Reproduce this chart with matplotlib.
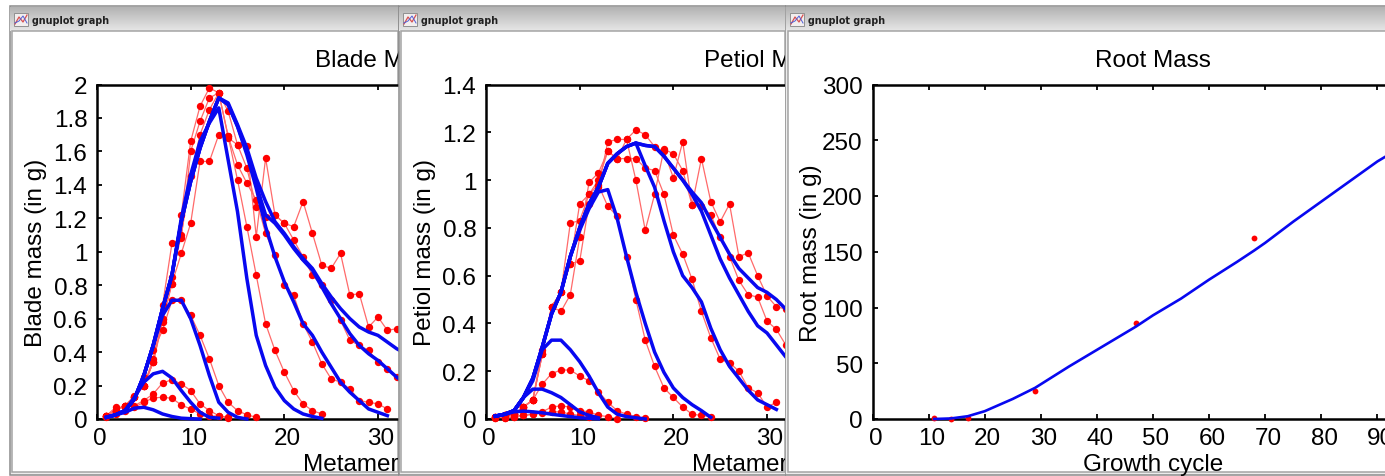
import numpy as np
import matplotlib
matplotlib.use("Agg")
import matplotlib.pyplot as plt
from matplotlib.patches import Rectangle
from matplotlib.transforms import ScaledTranslation

FIG_W, FIG_H = 1385, 477
FONT_SIZE = 17.5

# Blade mass, observed
blade_obs_x = [
    list(range(1, 15)),
    list(range(1, 15)),
    list(range(1, 18)),
    list(range(1, 25)),
    list(range(1, 32)),
    list(range(1, 34)),
    list(range(1, 34)),
]
blade_obs_y = [
    [0.01, 0.03, 0.05, 0.07, 0.10, 0.126, 0.13, 0.124, 0.084, 0.06, 0.03, 0.015, 0.02, 0.005],
    [0.02, 0.07, 0.07, 0.08, 0.11, 0.15, 0.215, 0.235, 0.21, 0.17, 0.09, 0.05, 0.02, 0.01],
    [0.02, 0.05, 0.08, 0.14, 0.25, 0.41, 0.53, 0.71, 0.71, 0.62, 0.50, 0.36, 0.20, 0.10, 0.05, 0.025, 0.01],
    [0.02, 0.05, 0.08, 0.13, 0.20, 0.34, 0.60, 0.81, 1.22, 1.66, 1.87, 1.98, 1.95, 1.69, 1.43, 1.15, 0.86, 0.57, 0.41, 0.28, 0.17, 0.09, 0.05, 0.03],
    [0.02, 0.05, 0.08, 0.13, 0.20, 0.36, 0.68, 1.05, 1.08, 1.60, 1.78, 1.92, 1.95, 1.69, 1.52, 1.41, 1.31, 1.11, 0.98, 0.80, 0.74, 0.57, 0.46, 0.33, 0.24, 0.22, 0.18, 0.11, 0.10, 0.09, 0.06],
    [0.02, 0.05, 0.08, 0.13, 0.20, 0.34, 0.58, 0.81, 0.99, 1.17, 1.54, 1.54, 1.70, 1.68, 1.64, 1.50, 1.27, 1.21, 1.22, 1.17, 1.07, 0.97, 0.86, 0.80, 0.71, 0.59, 0.47, 0.44, 0.41, 0.34, 0.30, 0.25, 0.22],
    [0.02, 0.05, 0.08, 0.13, 0.20, 0.34, 0.60, 0.85, 1.10, 1.45, 1.70, 1.85, 1.95, 1.84, 1.64, 1.63, 1.09, 1.56, 1.22, 1.17, 1.15, 1.30, 1.11, 0.92, 0.90, 0.99, 0.74, 0.75, 0.55, 0.61, 0.53, 0.54, 0.52],
]
blade_sim_x = [
    list(range(1, 12)),
    list(range(1, 14)),
    list(range(1, 17)),
    list(range(1, 25)),
    list(range(1, 32)),
    list(range(1, 34)),
    list(range(1, 34)),
]
blade_sim_y = [
    [0.01, 0.025, 0.04, 0.065, 0.07, 0.055, 0.03, 0.015, 0.005, 0.002, 0.0],
    [0.01, 0.025, 0.05, 0.13, 0.22, 0.27, 0.285, 0.245, 0.17, 0.10, 0.04, 0.01, 0.005],
    [0.01, 0.025, 0.05, 0.12, 0.26, 0.44, 0.62, 0.71, 0.71, 0.60, 0.44, 0.26, 0.10, 0.04, 0.01, 0.0],
    [0.01, 0.025, 0.05, 0.12, 0.26, 0.44, 0.66, 0.86, 1.20, 1.46, 1.66, 1.77, 1.86, 1.55, 1.24, 0.84, 0.50, 0.32, 0.19, 0.11, 0.06, 0.03, 0.015, 0.004],
    [0.01, 0.025, 0.05, 0.12, 0.26, 0.44, 0.66, 0.86, 1.18, 1.42, 1.62, 1.78, 1.92, 1.88, 1.75, 1.58, 1.38, 1.15, 0.97, 0.82, 0.70, 0.57, 0.50, 0.40, 0.31, 0.22, 0.16, 0.11, 0.06, 0.04, 0.02],
    [0.01, 0.025, 0.05, 0.12, 0.26, 0.44, 0.66, 0.86, 1.18, 1.42, 1.62, 1.78, 1.92, 1.88, 1.75, 1.60, 1.40, 1.22, 1.17, 1.10, 1.02, 0.95, 0.89, 0.79, 0.69, 0.60, 0.51, 0.44, 0.39, 0.35, 0.30, 0.25, 0.21],
    [0.01, 0.025, 0.05, 0.12, 0.26, 0.44, 0.66, 0.86, 1.18, 1.42, 1.62, 1.78, 1.92, 1.89, 1.76, 1.62, 1.44, 1.30, 1.18, 1.11, 1.03, 0.96, 0.90, 0.81, 0.73, 0.66, 0.60, 0.55, 0.52, 0.50, 0.46, 0.42, 0.39],
]

# Petiol mass
petiol_obs_x = [
    list(range(1, 15)),
    list(range(1, 12)),
    list(range(1, 18)),
    list(range(1, 25)),
    list(range(1, 32)),
    list(range(1, 34)),
    list(range(1, 34)),
]
petiol_obs_y = [
    [0.005, 0.005, 0.01, 0.015, 0.02, 0.03, 0.05, 0.055, 0.05, 0.035, 0.03, 0.015, 0.01, 0.0],
    [0.005, 0.005, 0.01, 0.015, 0.02, 0.025, 0.03, 0.03, 0.02, 0.015, 0.01],
    [0.01, 0.015, 0.02, 0.05, 0.08, 0.145, 0.19, 0.205, 0.205, 0.18, 0.16, 0.115, 0.07, 0.035, 0.02, 0.01, 0.004],
    [0.01, 0.015, 0.02, 0.05, 0.08, 0.29, 0.47, 0.53, 0.82, 0.83, 0.94, 0.98, 0.89, 0.85, 0.68, 0.50, 0.33, 0.22, 0.13, 0.09, 0.05, 0.02, 0.015, 0.01],
    [0.01, 0.015, 0.02, 0.05, 0.08, 0.27, 0.47, 0.45, 0.52, 0.76, 0.99, 1.03, 1.12, 1.09, 1.09, 1.09, 1.05, 1.04, 0.94, 0.77, 0.69, 0.585, 0.45, 0.34, 0.25, 0.235, 0.20, 0.13, 0.11, 0.05, 0.07],
    [0.01, 0.015, 0.02, 0.05, 0.08, 0.27, 0.47, 0.53, 0.65, 0.66, 0.90, 0.97, 1.16, 1.17, 1.17, 1.00, 0.79, 0.94, 1.13, 1.11, 1.04, 0.895, 0.89, 0.855, 0.76, 0.68, 0.58, 0.52, 0.51, 0.41, 0.375, 0.31, 0.28],
    [0.01, 0.015, 0.02, 0.05, 0.08, 0.27, 0.47, 0.53, 0.65, 0.90, 0.94, 1.00, 1.12, 1.09, 1.17, 1.21, 1.19, 1.14, 1.12, 1.01, 1.16, 0.895, 1.09, 0.91, 0.825, 0.90, 0.68, 0.695, 0.60, 0.515, 0.47, 0.46, 0.44],
]
petiol_sim_x = [
    list(range(1, 13)),
    list(range(1, 13)),
    list(range(1, 18)),
    list(range(1, 25)),
    list(range(1, 32)),
    list(range(1, 34)),
    list(range(1, 34)),
]
petiol_sim_y = [
    [0.012, 0.02, 0.03, 0.033, 0.03, 0.026, 0.02, 0.015, 0.01, 0.005, 0.003, 0.001],
    [0.012, 0.02, 0.035, 0.09, 0.125, 0.125, 0.11, 0.09, 0.06, 0.03, 0.015, 0.005],
    [0.012, 0.02, 0.035, 0.09, 0.16, 0.29, 0.33, 0.33, 0.29, 0.24, 0.18, 0.11, 0.05, 0.02, 0.01, 0.005, 0.0],
    [0.012, 0.02, 0.035, 0.09, 0.17, 0.30, 0.44, 0.53, 0.68, 0.79, 0.88, 0.95, 0.96, 0.84, 0.68, 0.53, 0.40, 0.28, 0.195, 0.13, 0.09, 0.06, 0.035, 0.007],
    [0.012, 0.02, 0.035, 0.09, 0.17, 0.30, 0.44, 0.53, 0.68, 0.80, 0.90, 0.97, 1.07, 1.11, 1.14, 1.155, 1.06, 0.97, 0.83, 0.70, 0.60, 0.55, 0.49, 0.38, 0.29, 0.22, 0.17, 0.12, 0.08, 0.06, 0.04],
    [0.012, 0.02, 0.035, 0.09, 0.17, 0.30, 0.44, 0.53, 0.68, 0.80, 0.90, 0.97, 1.07, 1.11, 1.14, 1.155, 1.145, 1.14, 1.10, 1.05, 1.00, 0.94, 0.87, 0.77, 0.67, 0.59, 0.52, 0.45, 0.39, 0.36, 0.31, 0.26, 0.22],
    [0.012, 0.02, 0.035, 0.09, 0.17, 0.30, 0.44, 0.53, 0.68, 0.80, 0.90, 0.97, 1.07, 1.11, 1.14, 1.155, 1.145, 1.14, 1.10, 1.05, 1.00, 0.95, 0.905, 0.83, 0.76, 0.69, 0.63, 0.59, 0.55, 0.53, 0.50, 0.46, 0.42],
]

# Root mass
root_obs_x = [11, 14, 17, 29, 47, 68]
root_obs_y = [1, 0, 1, 25, 86, 162]
root_sim_x = [11, 14, 17, 20, 25, 29, 35, 40, 47, 50, 55, 60, 65, 68, 70, 75, 80, 85, 90, 92]
root_sim_y = [0, 0.5, 2.5, 7, 18, 28, 47, 62, 83, 93, 108, 125, 141, 151, 158, 177, 195, 213, 231, 237]

titles = ["Blade Mass", "Petiol Mass", "Root Mass"]
ylabels = ["Blade mass (in g)", "Petiol mass (in g)", "Root mass (in g)"]
xlabels = ["Metamer rank", "Metamer rank", "Growth cycle"]
metamer_xticks = [0, 10, 20, 30]
root_xticks = [0, 10, 20, 30, 40, 50, 60, 70, 80, 90]
blade_yticks = [0, 0.2, 0.4, 0.6, 0.8, 1, 1.2, 1.4, 1.6, 1.8, 2]
petiol_yticks = [0, 0.2, 0.4, 0.6, 0.8, 1, 1.2, 1.4]
root_yticks = [0, 50, 100, 150, 200, 250, 300]

plt.rcParams["font.family"] = ["Liberation Sans", "DejaVu Sans"]
fig = plt.figure(figsize=(FIG_W / 100, FIG_H / 100), dpi=100)


def px_axes(left, top, right, bottom, zorder):
    return fig.add_axes([left / FIG_W, 1 - bottom / FIG_H, (right - left) / FIG_W, (bottom - top) / FIG_H],
                        zorder=zorder)


def draw_window(left, right, zorder):
    # window chrome, in pixel coords of the picture
    ax = px_axes(left, 6, right, 477, zorder)
    ax.axis("off")
    ax.add_patch(Rectangle((left + 0.5, 6.5), right - left - 1, 469.5, fc="#ececec", ec="#8c8c8c", lw=1.1))
    ax.add_patch(Rectangle((left + 3, 32), right - left - 4, 441, fc="#ffffff", ec="#a4a4a4", lw=1.1, zorder=1.5))
    grad = np.linspace(0.70, 0.90, 24).reshape(-1, 1)
    ax.imshow(grad, cmap="gray", vmin=0, vmax=1, extent=(left + 1, right - 1, 32, 8), aspect="auto", zorder=1)
    ax.set_xlim(left, right)
    ax.set_ylim(477, 6)
    # small gnuplot icon
    ax.add_patch(Rectangle((left + 5, 14), 14, 13, fc="#f2eeee", ec="#909090", lw=0.7, zorder=3))
    ax.plot([left + 6, left + 10, left + 14, left + 18], [25, 18, 23, 16], color="#d85050", lw=0.9, zorder=4)
    ax.plot([left + 6, left + 10, left + 14, left + 18], [24, 22, 17, 24], color="#5060d8", lw=0.7, zorder=4)
    ax.text(left + 23, 21.5, "gnuplot graph", fontsize=6.9, fontweight="bold", family="DejaVu Sans",
            color="#202020", va="center", ha="left", zorder=4)


def draw_panel(left, right, x_max, xticks, ymax, yticks, idx, zorder, obs, sim, lw_sim, ms, obs_line=True):
    ax = px_axes(left, 85.5, right, 420, zorder)
    ax.set_xlim(0, x_max)
    ax.set_ylim(0, ymax)
    for s in ax.spines.values():
        s.set_linewidth(1.8)
    ax.set_xticks(xticks)
    ax.set_yticks(yticks)
    ax.set_yticklabels([f"{v:g}" for v in yticks])
    ax.tick_params(direction="in", top=True, right=True, length=3.5, width=1.3, labelsize=FONT_SIZE, pad=7)
    ax.tick_params(axis="x", pad=6)
    # gnuplot numbers sit a bit right of their tick
    shift = ScaledTranslation(3 / 100, 0, fig.dpi_scale_trans)
    for lab in ax.get_xticklabels():
        lab.set_transform(lab.get_transform() + shift)
    for xs, ys in zip(*obs):
        if obs_line:
            ax.plot(xs, ys, color="#ff6a6a", lw=0.9, zorder=2)
        ax.plot(xs, ys, ls="none", marker="o", ms=ms, mfc="#ff0000", mec="#ff0000", mew=0, zorder=3, clip_on=False)
    for xs, ys in zip(*sim):
        ax.plot(xs, ys, color="#0808f0", lw=lw_sim, zorder=4, solid_joinstyle="round", clip_on=False)
    center = (left + right) / 2
    fig.text(center / FIG_W, 1 - 61 / FIG_H, titles[idx], fontsize=FONT_SIZE, ha="center", va="center", zorder=zorder)
    ax.set_xlabel(xlabels[idx], fontsize=FONT_SIZE, va="center")
    ax.xaxis.set_label_coords(0.5, -0.135)
    ax.set_ylabel(ylabels[idx], fontsize=FONT_SIZE)
    ax.yaxis.set_label_coords(-50 / (right - left), 0.5)
    return ax


draw_window(9, 399, 1)
draw_panel(97, 97 + 562, 60, metamer_xticks, 2, blade_yticks, 0, 2,
           (blade_obs_x, blade_obs_y), (blade_sim_x, blade_sim_y), 2.5, 5.3)

draw_window(398, 786, 3)
draw_panel(486, 486 + 562, 60, metamer_xticks, 1.4, petiol_yticks, 1, 4,
           (petiol_obs_x, petiol_obs_y), (petiol_sim_x, petiol_sim_y), 2.5, 5.3)

draw_window(785, 1460, 5)
draw_panel(872.5, 872.5 + 561, 100, root_xticks, 300, root_yticks, 2, 6,
           ([root_obs_x], [root_obs_y]), ([root_sim_x], [root_sim_y]), 1.9, 4.2, obs_line=False)

fig.savefig("out.png", dpi=100)
